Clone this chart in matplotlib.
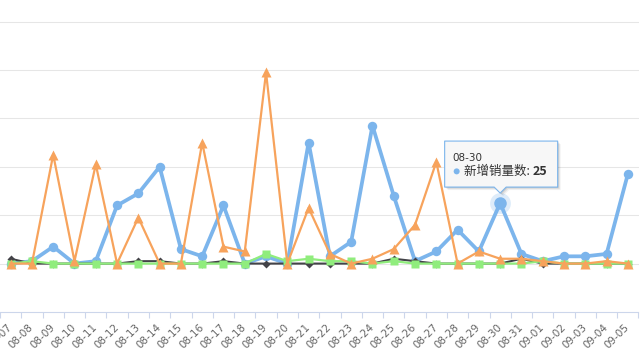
import numpy as np
import matplotlib
matplotlib.use("Agg")
from matplotlib import pyplot as plt
from matplotlib.patches import Polygon, Circle
from matplotlib.transforms import IdentityTransform

# dates on the x axis
dates = ["08-%02d" % d for d in range(7, 32)] + ["09-%02d" % d for d in range(1, 6)]

# series values
new_sales = [0, 1, 7, 0, 1, 24, 29, 40, 6, 3, 24, 0, 3, 0, 50, 3, 9, 57, 28, 1,
             5, 14, 5, 25, 4, 1, 3, 3, 4, 37]
series_b = [2, 0, 0, 0, 0, 0, 1, 1, 0, 0, 1, 0, 0, 0, 0, 0, 0, 0, 2, 1,
            0, 0, 0, 0, 2, 0, 0, 0, 0, 0]
series_c = [0, 1, 0, 0, 0, 0, 0, 0, 0, 0, 0, 0, 4, 1, 2, 1, 1, 0, 1, 0,
            0, 0, 0, 0, 0, 1, 0, 0, 0, 0]
series_d = [0, 0, 45, 1, 41, 0, 19, 0, 0, 50, 7, 5, 79, 0, 23, 4, 0, 2, 6, 16,
            42, 0, 5, 2, 2, 1, 0, 0, 1, 0]

series_name = "新增销量数"
hover_idx = 23  # 08-30

W, H = 640, 360
fig = plt.figure(figsize=(W / 100, H / 100), dpi=100)
ax = fig.add_axes([0, 48 / H, 638.5 / W, 312 / H])

x = np.arange(len(dates))

# gridlines
for g in range(0, 101, 20):
    ax.axhline(g, color="#e6e6e6", lw=0.75, zorder=0)

ax.plot(x, new_sales, color="#7cb5ec", lw=2.7, marker="o", ms=6.8, mec="none", zorder=3)
ax.plot(x, series_b, color="#434348", lw=1.5, marker="D", ms=4.5, mec="none", zorder=4)
ax.plot(x, series_c, color="#90ed7d", lw=1.6, marker="s", ms=6, mec="none", zorder=5)
ax.plot(x, series_d, color="#f7a35c", lw=1.6, marker="^", ms=6.8, mec="none", zorder=6)

# hovered point with halo
ax.plot([hover_idx], [new_sales[hover_idx]], "o", color="#7cb5ec", ms=15, alpha=0.25,
        mec="none", zorder=7)
ax.plot([hover_idx], [new_sales[hover_idx]], "o", color="#7cb5ec", ms=9, mec="none", zorder=8)

ax.set_xlim(-0.5, len(dates) - 0.5)
ax.set_ylim(-20, 108.9)

for s in ["top", "right", "left"]:
    ax.spines[s].set_visible(False)
ax.spines["bottom"].set_color("#ccd6eb")
ax.spines["bottom"].set_linewidth(0.8)
ax.set_yticks([])

ax.set_xticks(x)
ax.set_xticklabels(dates, rotation=45, ha="right", va="center", rotation_mode="anchor",
                   fontsize=7.5, color="#666666")
ax.tick_params(axis="x", which="major", length=0, pad=10)
ax.set_xticks(np.arange(-0.5, len(dates)), minor=True)
ax.tick_params(axis="x", which="minor", length=4, color="#ccd6eb", width=0.8)

# tooltip (callout) in pixel coordinates
fig.canvas.draw()
px, py = ax.transData.transform((hover_idx, new_sales[hover_idx]))
left, right = px - 55.5, px + 57.5
bottom, top = py + 16, py + 62
tip = py + 10
outline = [(left, top), (right, top), (right, bottom), (px + 6, bottom), (px, tip),
           (px - 6, bottom), (left, bottom)]
for k, a in enumerate([0.05, 0.08, 0.1]):
    off = 3 - k
    shadow = Polygon([(u + off, v - off) for u, v in outline], closed=True,
                     transform=IdentityTransform(), facecolor="black", edgecolor="none",
                     alpha=a, zorder=20)
    fig.add_artist(shadow)
box = Polygon(outline, closed=True, transform=IdentityTransform(), facecolor="#f7f7f7",
              edgecolor="#7cb5ec", lw=0.8, joinstyle="round", zorder=21)
fig.add_artist(box)

fig.text((px - 47.5) / W, (py + 45.5) / H, dates[hover_idx], fontsize=7.5, color="#333333",
         ha="left", va="center", zorder=22)
fig.add_artist(Circle((px - 43.5, py + 31.7), 3, transform=IdentityTransform(),
                      facecolor="#7cb5ec", edgecolor="none", zorder=22))
t1 = fig.text((px - 36) / W, (py + 31.7) / H, series_name + ": ", fontsize=9,
              color="#333333", ha="left", va="center", zorder=22,
              family=["Noto Sans CJK SC", "DejaVu Sans"])
fig.canvas.draw()
bb = t1.get_window_extent()
fig.text(bb.x1 / W, (py + 31.7) / H, str(new_sales[hover_idx]), fontsize=9,
         color="#333333", fontweight="bold", ha="left", va="center", zorder=22,
         family=["Noto Sans CJK SC", "DejaVu Sans"])

fig.savefig("out.png", dpi=100, facecolor="white")
